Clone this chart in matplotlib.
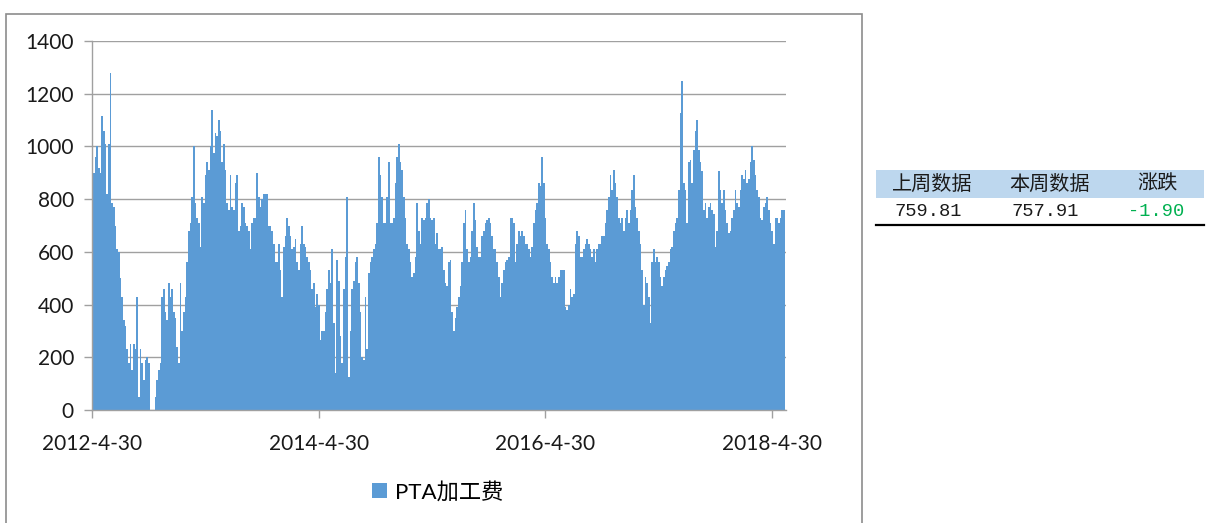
import datetime as dt
import numpy as np
import matplotlib
matplotlib.use("Agg")
import matplotlib.pyplot as plt
import matplotlib.dates as mdates
from matplotlib.patches import Rectangle
from matplotlib.lines import Line2D

plt.rcParams['font.family'] = ['Lato', 'Noto Sans CJK SC', 'DejaVu Sans']

fee_2012 = [850, 900, 960, 1000, 920, 900, 1115, 1060, 1010, 820, 1010, 1280, 785, 770,
            700, 610, 600, 500, 430, 340, 320, 230, 180, 250, 150, 250, 230, 430, 50, 230,
            180, 115, 190, 200, 180, 0, 0, 0, 50, 115, 150, 180, 430, 460, 370, 340, 480,
            430, 460, 370, 350, 240, 180, 480, 300, 370, 430, 560, 680, 710, 810, 1000,
            785, 730, 710, 620, 810]
fee_2013 = [785, 890, 940, 910, 1000, 1140, 975, 1050, 1040, 1100, 1060, 940, 1010, 910,
            785, 760, 890, 770, 760, 860, 890, 680, 700, 785, 770, 710, 700, 680, 610, 710,
            730, 730, 900, 810, 770, 800, 820, 820, 820, 700, 700, 680, 630, 560, 560, 630,
            530, 430, 620, 660, 730, 700, 660, 610, 620, 650, 560, 530, 630, 700, 630, 620,
            580, 560, 530, 460, 480, 390, 440]
fee_2014 = [400, 265, 300, 300, 370, 460, 530, 480, 610, 330, 140, 570, 490, 280, 180,
            460, 580, 810, 125, 300, 460, 490, 560, 580, 480, 370, 200, 190, 430, 230, 520,
            560, 580, 610, 630, 710, 960, 890, 810, 710, 710, 810, 940, 710, 710, 730, 860,
            960, 1010, 940, 910, 810, 730, 630, 610, 560, 505, 520, 580, 785, 680, 630, 730,
            720, 730, 785, 800, 730, 720]
fee_2015 = [730, 630, 670, 610, 610, 620, 530, 480, 470, 560, 570, 370, 300, 350, 390,
            430, 470, 560, 710, 760, 610, 560, 580, 680, 785, 720, 620, 580, 580, 660, 680,
            710, 720, 730, 710, 660, 610, 610, 560, 505, 430, 480, 530, 560, 570, 580, 730,
            730, 710, 560, 630, 680, 660, 680, 660, 630, 630, 610, 580, 620, 710, 760, 785,
            860, 850, 960, 860, 730, 630]
fee_2016 = [610, 560, 505, 480, 505, 480, 505, 530, 530, 530, 390, 380, 400, 460, 430,
            440, 630, 680, 660, 580, 580, 610, 630, 650, 630, 610, 580, 610, 560, 610, 630,
            630, 660, 660, 710, 760, 810, 890, 835, 910, 860, 810, 730, 710, 730, 680, 730,
            760, 710, 760, 835, 890, 770, 730, 680, 630, 530, 400, 505, 480, 430, 330, 560,
            610, 560, 580, 560, 505, 470]
fee_2017 = [505, 530, 545, 560, 610, 620, 680, 710, 730, 835, 1125, 1250, 860, 835, 710,
            940, 950, 860, 985, 1060, 1100, 985, 940, 905, 760, 785, 730, 770, 785, 760,
            745, 620, 680, 905, 835, 785, 835, 760, 710, 670, 680, 730, 760, 835, 785, 770,
            835, 890, 875, 910, 860, 875, 940, 1000, 950, 890, 835, 810, 730, 720, 770, 785,
            810, 760, 710, 680, 630, 730, 730, 710, 730, 760, 760]

fee = fee_2012 + fee_2013 + fee_2014 + fee_2015 + fee_2016 + fee_2017
first_day = dt.datetime(2012, 5, 1)
step_days = 5.37

tick_dates = [dt.datetime(2012, 4, 30), dt.datetime(2014, 4, 30),
              dt.datetime(2016, 4, 30), dt.datetime(2018, 4, 30)]
tick_labels = ["2012-4-30", "2014-4-30", "2016-4-30", "2018-4-30"]

table_header = ["上周数据", "本周数据", "涨跌"]
table_values = ["759.81", "757.91", "-1.90"]

W, H = 1206, 523
fig = plt.figure(figsize=(W / 100, H / 100), dpi=100)

# outer chart frame
fig.patches.append(Rectangle((6 / W, -0.1), (862 - 6) / W, 1.1 - 14 / H,
                             transform=fig.transFigure, fill=False,
                             edgecolor="#8c8c8c", linewidth=1.2))

ax = fig.add_axes([92 / W, 1 - 410 / H, (786 - 92) / W, (410 - 41) / H])

x = mdates.date2num(first_day) + step_days * np.arange(len(fee))
bars = ax.bar(x, fee, width=step_days, color="#5B9BD5", linewidth=0,
              label="PTA加工费", zorder=2)

ax.set_xlim(mdates.date2num(dt.datetime(2012, 4, 30)),
            mdates.date2num(dt.datetime(2018, 6, 14)))
ax.set_ylim(0, 1400)
ax.set_yticks(range(0, 1401, 200))
ax.set_xticks([mdates.date2num(d) for d in tick_dates])
ax.set_xticklabels(tick_labels)

ax.grid(axis="y", color="#a0a0a0", linewidth=1, zorder=0)
ax.set_axisbelow(True)
for side in ["top", "right"]:
    ax.spines[side].set_visible(False)
for side in ["left", "bottom"]:
    ax.spines[side].set_color("#a0a0a0")
    ax.spines[side].set_linewidth(1)
ax.tick_params(axis="both", colors="#a0a0a0", length=6, width=1,
               labelsize=15, labelcolor="#1a1a1a")
ax.tick_params(axis="x", pad=11)
ax.tick_params(axis="y", pad=7)

ax.legend(handles=[bars], loc="center", bbox_to_anchor=(438 / W, 1 - 492 / H),
          bbox_transform=fig.transFigure, frameon=False, fontsize=16,
          handlelength=0.65, handleheight=0.65, handletextpad=0.4)

# small data table on the right
fig.patches.append(Rectangle((876 / W, 1 - 198 / H), (1204 - 876) / W, 28 / H,
                             transform=fig.transFigure, facecolor="#BDD7EE",
                             edgecolor="none"))
fig.lines.append(Line2D([876 / W, 1204 / W], [1 - 225 / H, 1 - 225 / H],
                        transform=fig.transFigure, color="black", linewidth=1.6))
header_x = [932, 1050, 1157]
value_x = [928, 1045, 1156]
value_colors = ["#1a1a1a", "#1a1a1a", "#00B050"]
for hx, txt in zip(header_x, table_header):
    fig.text(hx / W, 1 - 184 / H, txt, ha="center", va="center", fontsize=14.5,
             family=["Noto Sans CJK SC"], color="#1a1a1a")
for vx, txt, c in zip(value_x, table_values, value_colors):
    fig.text(vx / W, 1 - 212 / H, txt, ha="center", va="center", fontsize=13.5,
             family=["Liberation Mono"], color=c)

fig.savefig("out.png", dpi=100)
